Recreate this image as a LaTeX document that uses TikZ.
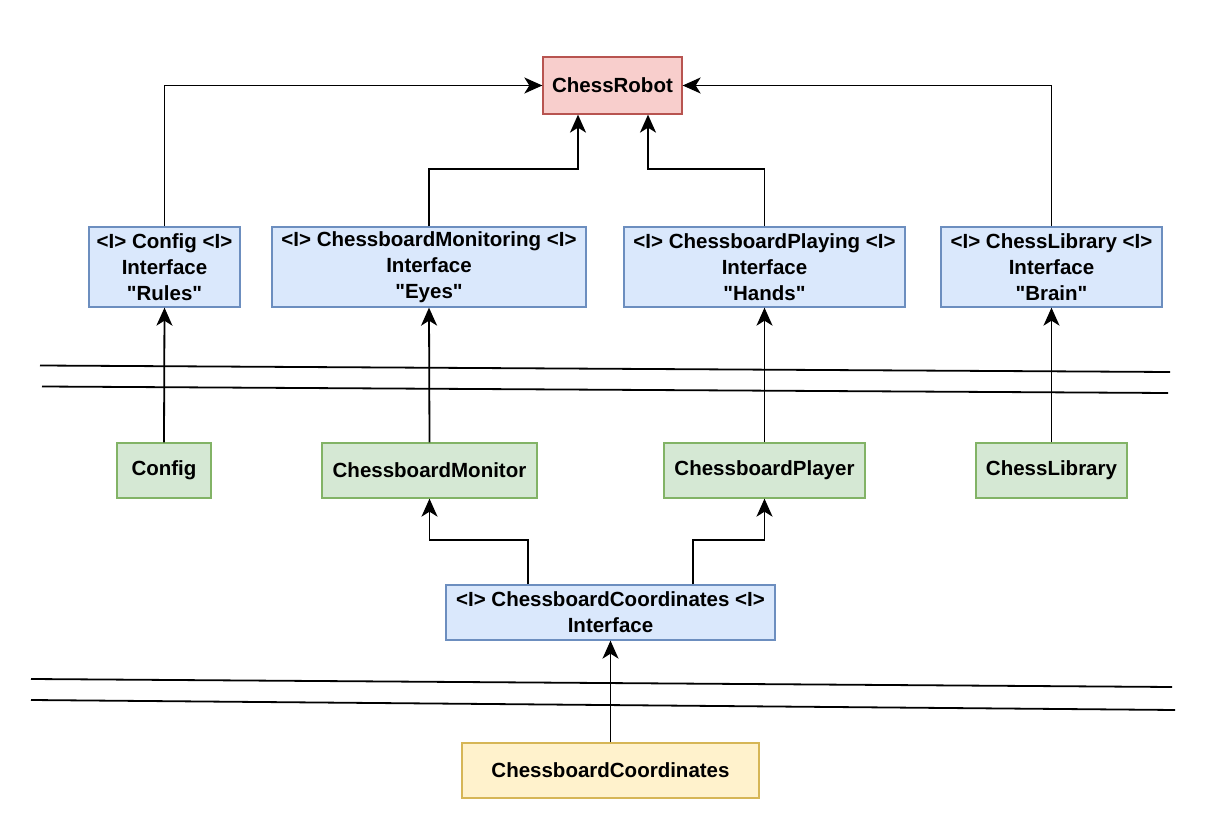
\documentclass[tikz,border=0pt]{standalone}
\usepackage{fontspec}
\setmainfont{Liberation Sans}[Ligatures=TeXOff]
\usetikzlibrary{arrows.meta}
\definecolor{redfill}{HTML}{F8CECC}\definecolor{redline}{HTML}{B85450}
\definecolor{bluefill}{HTML}{DAE8FC}\definecolor{blueline}{HTML}{6C8EBF}
\definecolor{greenfill}{HTML}{D5E8D4}\definecolor{greenline}{HTML}{82B366}
\definecolor{yellowfill}{HTML}{FFF2CC}\definecolor{yellowline}{HTML}{D6B656}
\tikzset{
  box/.style={draw, line width=1.3pt, inner sep=0pt, align=center,
    font=\fontsize{20.5}{26}\selectfont\bfseries},
  redbox/.style={box, fill=redfill, draw=redline},
  bluebox/.style={box, fill=bluefill, draw=blueline},
  greenbox/.style={box, fill=greenfill, draw=greenline},
  yellowbox/.style={box, fill=yellowfill, draw=yellowline},
  conn/.style={line width=1.8pt, -{Stealth[length=18pt,width=16pt,inset=5pt]}},
  sep/.style={line width=1.8pt}
}
\begin{document}
\begin{tikzpicture}[x=1pt,y=-1pt]
\useasboundingbox (0,0) rectangle (1219,826);
% nodes
\node[redbox, minimum width=139pt, minimum height=57pt] (robot) at (612.5,85.5) {ChessRobot};
\node[bluebox, minimum width=151pt, minimum height=80pt] (icfg) at (164.5,267) {<I> Config <I>\\Interface\\"Rules"};
\node[bluebox, minimum width=314pt, minimum height=80pt] (imon) at (429,267) {<I> ChessboardMonitoring <I>\\Interface\\"Eyes"};
\node[bluebox, minimum width=281pt, minimum height=80pt] (iply) at (764.5,267) {<I> ChessboardPlaying <I>\\Interface\\"Hands"};
\node[bluebox, minimum width=221pt, minimum height=80pt] (ilib) at (1051.5,267) {<I> ChessLibrary <I>\\Interface\\"Brain"};
\node[greenbox, minimum width=94pt, minimum height=55pt] (cfg) at (164,470.5) {Config};
\node[greenbox, minimum width=215pt, minimum height=55pt] (mon) at (429.5,470.5) {ChessboardMonitor};
\node[greenbox, minimum width=201pt, minimum height=55pt] (ply) at (764.5,470.5) {ChessboardPlayer};
\node[greenbox, minimum width=151pt, minimum height=55pt] (lib) at (1051.5,470.5) {ChessLibrary};
\node[bluebox, minimum width=329pt, minimum height=55pt] (icoord) at (610.5,612.5) {<I> ChessboardCoordinates <I>\\Interface};
\node[yellowbox, minimum width=297pt, minimum height=55pt] (coord) at (610.5,770.5) {ChessboardCoordinates};
% separator lines
\coordinate (s1a) at (40,365.5); \coordinate (s1b) at (1170,372);
\coordinate (s2a) at (42,386.5); \coordinate (s2b) at (1168,393);
\coordinate (s3a) at (31,679); \coordinate (s3b) at (1172,687);
\coordinate (s4a) at (31,700); \coordinate (s4b) at (1175,710);
\draw[sep] (s1a) -- (s1b);
\draw[sep] (s2a) -- (s2b);
\draw[sep] (s3a) -- (s3b);
\draw[sep] (s4a) -- (s4b);
% connectors
\draw[conn] (icfg.north) |- (robot.west);
\draw[conn] (ilib.north) |- (robot.east);
\draw[conn] (imon.north) -- ++(0,-57) -| ([xshift=-34.5pt]robot.south);
\draw[conn] (iply.north) -- ++(0,-57) -| ([xshift=35.5pt]robot.south);
\draw[conn] (cfg.north) -- (icfg.south);
\draw[conn] (mon.north) -- ([xshift=-0.5pt]imon.south -| mon.north);
\draw[conn] (ply.north) -- (iply.south);
\draw[conn] (lib.north) -- (ilib.south);
\draw[conn] ([xshift=-82.5pt]icoord.north) -- ++(0,-44) -| (mon.south);
\draw[conn] ([xshift=82.5pt]icoord.north) -- ++(0,-44) -| (ply.south);
\draw[conn] (coord.north) -- (icoord.south);
\end{tikzpicture}
\end{document}
